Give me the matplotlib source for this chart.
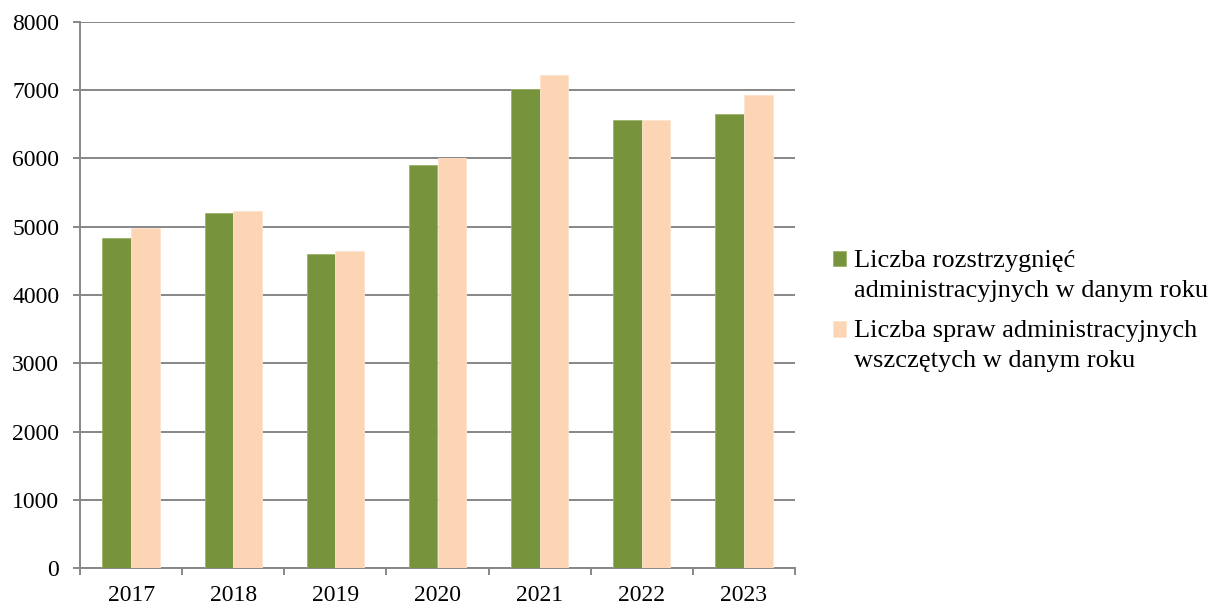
import matplotlib
matplotlib.use("Agg")
import matplotlib.pyplot as plt
from matplotlib.legend_handler import HandlerPatch, update_from_first_child
from matplotlib.container import BarContainer
from matplotlib.patches import Rectangle
import numpy as np

years = ["2017", "2018", "2019", "2020", "2021", "2022", "2023"]
rozstrzygniecia = [4830, 5205, 4605, 5900, 7015, 6560, 6650]
sprawy = [4980, 5225, 4640, 6000, 7220, 6560, 6935]
labels = ["Liczba rozstrzygnięć\nadministracyjnych w danym roku",
          "Liczba spraw administracyjnych\nwszczętych w danym roku"]
yticks = [0, 1000, 2000, 3000, 4000, 5000, 6000, 7000, 8000]

plt.rcParams['font.family'] = ['Liberation Serif', 'DejaVu Serif']

green = "#77933C"
peach = "#FCD5B5"
grid_c = "#878787"

fig = plt.figure(figsize=(12.14, 6.05), dpi=100)
ax = fig.add_axes([80/1214, 37/605, 715/1214, 546/605])

x = np.arange(len(years))
w = 0.28
ax.bar(x - w/2, rozstrzygniecia, width=w, color=green, edgecolor="#9BB36A", linewidth=0.6, label=labels[0], zorder=3)
ax.bar(x + w/2, sprawy, width=w, color=peach, edgecolor="#FDE3CF", linewidth=0.6, label=labels[1], zorder=3)

ax.set_xlim(-0.5, len(years) - 0.5)
ax.set_ylim(0, 8000)
ax.set_yticks(yticks)
ax.set_yticklabels([str(t) for t in yticks], fontsize=17)
ax.yaxis.grid(True, color=grid_c, linewidth=1.4, zorder=0)
ax.set_axisbelow(True)

ax.set_xticks(x)
ax.set_xticklabels(years, fontsize=17)
ax.set_xticks(np.arange(-0.5, len(years)), minor=True)
ax.tick_params(axis='x', which='major', length=0, pad=12)
ax.tick_params(axis='x', which='minor', length=5, width=1.4, color=grid_c, direction='out')
ax.tick_params(axis='y', length=5, width=1.4, color=grid_c, direction='out', pad=10)

for s in ["top", "right"]:
    ax.spines[s].set_visible(False)
for s in ["left", "bottom"]:
    ax.spines[s].set_color(grid_c)
    ax.spines[s].set_linewidth(1.4)

LEG_FS = 19


def top_square(legend, orig_handle, xdescent, ydescent, width, height, fontsize):
    shift = 0.62 * fontsize
    return Rectangle((-xdescent, -ydescent + shift), width, height)


leg = fig.legend(loc='center left', bbox_to_anchor=(809/1214, 1 - 311/605), frameon=False,
                 fontsize=LEG_FS, handlelength=0.5, handleheight=0.5, handletextpad=0.3,
                 labelspacing=0.68,
                 handler_map={BarContainer: HandlerPatch(patch_func=top_square,
                                                         update_func=update_from_first_child)})
for t in leg.get_texts():
    t.set_linespacing(1.5)

fig.savefig("out.png", dpi=100)
